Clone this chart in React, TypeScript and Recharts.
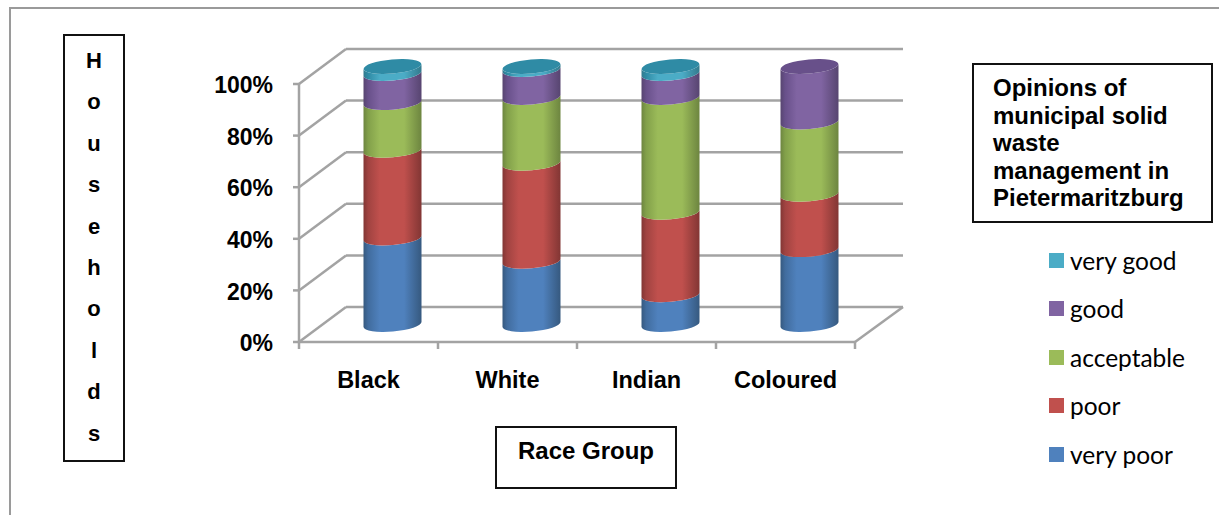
import React from "react";
import { BarChart, Bar, CartesianGrid, XAxis, YAxis, Legend } from "recharts";

const categories = ["Black", "White", "Indian", "Coloured"];
const veryPoor = [33.5, 24.5, 11.5, 29];
const poor = [34, 38, 32, 21.5];
const acceptable = [18.5, 25.5, 44.5, 28];
const good = [11.3, 10.8, 9.3, 21.5];
const veryGood = [2.7, 1.2, 2.7, 0];
const yTicks = [0, 20, 40, 60, 80, 100];
const yAxisTitle = "Households".split("");
const titleLines = ["Opinions of", "municipal solid", "waste", "management in", "Pietermaritzburg"];

const series = [
  { key: "very poor", values: veryPoor, color: "#4f81bd", dark: "#36597f", cap: "#416c9e" },
  { key: "poor", values: poor, color: "#c0504d", dark: "#823634", cap: "#a04341" },
  { key: "acceptable", values: acceptable, color: "#9bbb59", dark: "#6d8540", cap: "#82a04a" },
  { key: "good", values: good, color: "#8064a2", dark: "#574570", cap: "#68508a" },
  { key: "very good", values: veryGood, color: "#4bacc6", dark: "#337a8d", cap: "#2f8ba5" },
];

const rows = categories.map((name, i) => {
  const row: Record<string, string | number> = { name };
  series.forEach((s) => {
    row[s.key] = s.values[i];
  });
  return row;
});

// how far the back wall sits behind the front plane
const DEPTH_X = 47;
const DEPTH_Y = 35;
const PLOT_WIDTH = 556;
const AXIS_GREY = "#a3a3a3";
const BOLD_FONT = "'Liberation Sans', Arial, sans-serif";

const wallLine = (props: any) => {
  const { x1, x2, y1, index } = props;
  const backY = y1 - DEPTH_Y;
  return (
    <g key={`wall-${index}`} stroke={AXIS_GREY} strokeWidth={2.5} fill="none">
      <line x1={x1 + DEPTH_X} y1={backY} x2={x2 + DEPTH_X + 1} y2={backY} />
      <line x1={x1} y1={y1} x2={x1 + DEPTH_X} y2={backY} />
      {y1 > 340 ? <line x1={x2} y1={y1} x2={x2 + DEPTH_X + 1} y2={backY} /> : null}
    </g>
  );
};

// category label, with the tick marks on the band edges rather than its centre
const CategoryTick = (props: any) => {
  const { x, y, payload, index } = props;
  const band = PLOT_WIDTH / categories.length;
  const axisY = y - 4;
  return (
    <g>
      <line x1={x - band / 2} y1={axisY} x2={x - band / 2} y2={axisY + 7} stroke={AXIS_GREY} strokeWidth={2.5} />
      {index === categories.length - 1 ? (
        <line x1={x + band / 2} y1={axisY} x2={x + band / 2} y2={axisY + 7} stroke={AXIS_GREY} strokeWidth={2.5} />
      ) : null}
      <text x={x} y={axisY + 46} textAnchor="middle" fill="#000" fontFamily={BOLD_FONT} fontWeight={700} fontSize={23.5}>
        {payload.value}
      </text>
    </g>
  );
};

// one stretch of a leaning cylinder; the top stretch also gets the lid
const cylinderShape = (seriesIndex: number) => (props: any) => {
  const { x, y, width, height, payload } = props;
  if (!height || height <= 0) return null;
  const s = series[seriesIndex];
  const rx = width / 2;
  const ry = 7;
  const tilt = 2.5;
  const rot = -5;
  const left = x + DEPTH_X / 2;
  const right = left + width;
  const top = y - DEPTH_Y / 2;
  const bottom = top + height;
  const isTop = series.slice(seriesIndex + 1).every((o) => !payload[o.key]);
  const body = [
    `M${left},${bottom + tilt}`,
    `A${rx},${ry} ${rot} 0 0 ${right},${bottom - tilt}`,
    `L${right},${top - tilt}`,
    `A${rx},${ry} ${rot} 0 1 ${left},${top + tilt}`,
    "Z",
  ].join(" ");
  return (
    <g>
      <path d={body} fill={`url(#cyl-${seriesIndex})`} />
      {isTop ? (
        <ellipse
          cx={left + rx}
          cy={top}
          rx={rx}
          ry={ry}
          fill={s.cap}
          transform={`rotate(${rot} ${left + rx} ${top})`}
        />
      ) : null}
    </g>
  );
};

const LegendList = () => (
  <div style={{ fontFamily: "Lato, sans-serif", fontSize: 24.5, color: "#000" }}>
    {[...series].reverse().map((s) => (
      <div key={s.key} style={{ display: "flex", alignItems: "center", height: 48.5 }}>
        <span style={{ width: 15, height: 15, background: s.color, marginRight: 6 }} />
        <span>{s.key}</span>
      </div>
    ))}
  </div>
);

const boxStyle: React.CSSProperties = {
  position: "absolute",
  boxSizing: "border-box",
  border: "2px solid #111",
  background: "#fff",
  fontFamily: BOLD_FONT,
  fontWeight: 700,
  color: "#000",
};

export default function App() {
  return (
    <div style={{ position: "absolute", left: 0, top: 0, width: 1219, height: 515, background: "#fff", overflow: "hidden" }}>
      <div style={{ position: "absolute", left: 9, top: 7, width: 1300, height: 600, borderLeft: "2.5px solid #9a9a9a", borderTop: "2px solid #9a9a9a" }} />
      <div style={{ position: "absolute", left: 0, top: 0 }}>
        <BarChart
          width={1219}
          height={515}
          data={rows}
          margin={{ top: 84, right: 364, bottom: 0, left: 0 }}
          barCategoryGap="58%"
        >
          <defs>
            {series.map((s, i) => (
              <linearGradient key={s.key} id={`cyl-${i}`} x1="0" y1="0" x2="1" y2="0">
                <stop offset="0%" stopColor={s.dark} />
                <stop offset="8%" stopColor={s.cap} />
                <stop offset="28%" stopColor={s.color} />
                <stop offset="70%" stopColor={s.color} />
                <stop offset="100%" stopColor={s.dark} />
              </linearGradient>
            ))}
          </defs>
          <CartesianGrid vertical={false} horizontal={wallLine} />
          <XAxis
            dataKey="name"
            height={173}
            stroke={AXIS_GREY}
            strokeWidth={2.5}
            tickLine={false}
            tickSize={4}
            tickMargin={0}
            interval={0}
            tick={<CategoryTick />}
          />
          <YAxis
            width={299}
            domain={[0, 100]}
            ticks={yTicks}
            tickFormatter={(v) => `${v}%`}
            stroke={AXIS_GREY}
            strokeWidth={2.5}
            tickSize={6}
            tickMargin={20}
            tick={{ fill: "#000", fontFamily: BOLD_FONT, fontWeight: 700, fontSize: 23, dy: 1 }}
          />
          <Legend
            layout="vertical"
            align="center"
            verticalAlign="middle"
            content={<LegendList />}
            wrapperStyle={{ left: 1049, top: 236, width: 170, bottom: "auto", right: "auto" }}
          />
          {series.map((s, i) => (
            <Bar
              key={s.key}
              dataKey={s.key}
              stackId="opinions"
              fill={s.color}
              barSize={58}
              shape={cylinderShape(i)}
              isAnimationActive={false}
            />
          ))}
        </BarChart>
      </div>

      <div style={{ ...boxStyle, left: 63, top: 34, width: 62, height: 428 }}>
        {yAxisTitle.map((ch, i) => (
          <div key={i} style={{ position: "absolute", left: 0, width: "100%", top: 11 + i * 41.4, height: 28, lineHeight: "28px", textAlign: "center", fontSize: 22 }}>
            {ch}
          </div>
        ))}
      </div>

      <div style={{ ...boxStyle, left: 495, top: 426, width: 182, height: 63, fontSize: 24, textAlign: "center", lineHeight: "45px" }}>
        Race Group
      </div>

      <div style={{ ...boxStyle, left: 972, top: 63, width: 241, height: 160, fontSize: 24, lineHeight: "27.6px", padding: "9px 0 0 19px", whiteSpace: "nowrap" }}>
        {titleLines.map((line) => (
          <div key={line}>{line}</div>
        ))}
      </div>
    </div>
  );
}
